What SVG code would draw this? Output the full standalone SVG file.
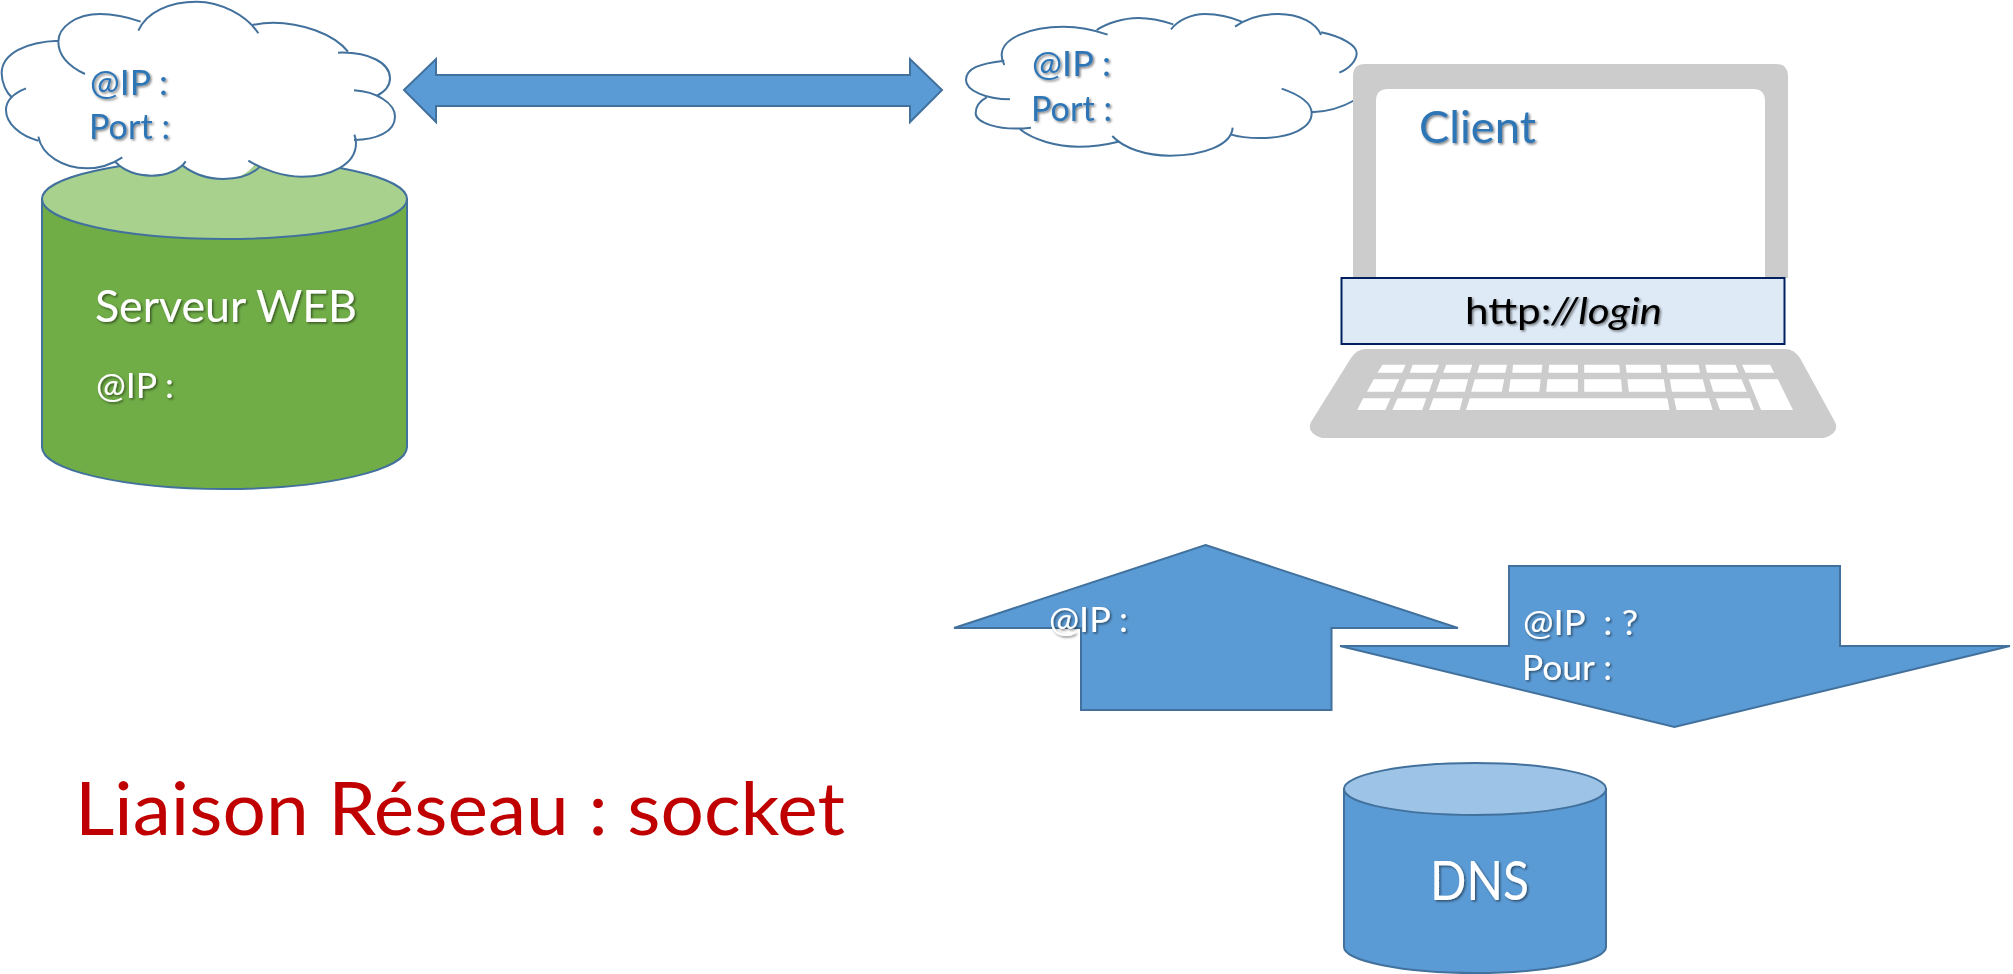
<svg xmlns="http://www.w3.org/2000/svg" width="2013" height="974" viewBox="0 0 2013 974">
<style>
text{font-family:"Lato","Carlito","Liberation Sans",sans-serif}
.s{font-size:34px}.m{font-size:44px}
.w{fill:#fff}.b{fill:#2E75B6}
.shape{stroke:#41719C;stroke-width:2}
.blue{fill:#5B9BD5}
.cf{fill:#fff;stroke:none}
.cs{fill:none;stroke:#41719C;stroke-width:6;stroke-linecap:butt}
.gray{fill:#CCCCCC}
.key{fill:#fff}
</style>
<defs>
<filter id="sh" x="-10%" y="-20%" width="125%" height="150%"><feDropShadow dx="1.5" dy="1.5" stdDeviation="1" flood-color="#000" flood-opacity="0.5"/></filter>
</defs>
<g id="serveur">
<path class="shape" fill="#70AD47" d="M42 199V447C42 470 124 489 224.500 489S407 470 407 447V199Z"/>
<ellipse class="shape" fill="#A9D18E" cx="224.500" cy="199" rx="182.500" ry="40"/>
<text class="m w" x="95" y="322" textLength="262" lengthAdjust="spacingAndGlyphs" filter="url(#sh)">Serveur WEB</text>
<text class="s w" x="96" y="398" textLength="78" lengthAdjust="spacingAndGlyphs" filter="url(#sh)">@IP :</text>
</g>
<g id="cloud-serveur">
<g transform="scale(.33333)">
<path class="cf" d="M175 122C80 125 5 160 5 220C5 250 20 278 35 292C18 300 18 315 18 330C18 370 60 408 115 422C125 465 190 505 260 505C295 505 330 497 347 487C375 515 415 527 455 527C500 527 530 515 548 497C585 525 630 537 670 537C715 537 745 520 765 492C790 510 850 530 905 530C990 530 1068 495 1068 430V420C1130 420 1185 395 1185 350C1185 320 1160 300 1130 288C1155 275 1170 255 1170 235C1170 190 1110 155 1044 155C1000 100 900 68 820 68C800 68 780 70 758 75C720 30 660 5 590 5C510 5 450 30 422 65C380 50 340 42 300 42C230 42 175 80 175 125Z"/>
<path class="cs" d="M175 122C80 125 5 160 5 220C5 250 20 278 35 292M78 265C45 278 18 300 18 330C18 370 60 408 115 422M115 410C125 465 190 505 260 505C295 505 330 497 367 472M347 487C375 515 415 527 455 527C500 527 540 510 557 484M548 497C585 525 630 537 670 537C715 537 755 525 780 500M745 482C790 510 850 530 905 530C990 530 1068 495 1068 430C1068 420 1066 412 1063 404M1062 420C1130 420 1185 395 1185 350C1185 310 1130 275 1062 271M1130 288C1155 275 1170 255 1170 235C1170 190 1110 155 1014 158M1044 155C1000 100 900 68 820 68C800 68 780 70 758 75M775 100C740 45 660 5 590 5C510 5 440 35 415 92M422 65C380 50 340 42 300 42C230 42 175 80 175 125C175 165 205 198 255 222"/>
</g>
<text class="s b" x="90" y="95" textLength="78" lengthAdjust="spacingAndGlyphs" filter="url(#sh)">@IP :</text>
<text class="s b" x="89" y="139" textLength="81" lengthAdjust="spacingAndGlyphs" filter="url(#sh)">Port :</text>
</g>
<g id="connectors">
<path id="socket-arrow" class="shape blue" d="M404 90L436 59V75H910V59L942 90L910 122V106H436V122Z"/>
</g>
<g id="cloud-client">
<g transform="translate(950 0) scale(.33333)">
<path class="cf" d="M160 182C90 190 48 205 48 240C48 265 75 283 110 292C85 305 77 320 77 340C77 365 140 392 210 388C250 420 320 440 385 440C425 440 465 435 487 408C520 445 590 467 660 467C760 467 830 440 842 403C870 412 900 414 930 414C1020 414 1085 385 1085 337C1140 335 1180 320 1215 300V218C1220 190 1220 180 1220 160C1220 135 1175 110 1113 100C1100 70 1050 42 985 42C940 42 900 52 875 65C840 50 805 42 765 42C725 42 690 55 670 73C630 60 600 54 565 54C520 54 470 70 440 90C420 85 380 80 340 80C240 80 155 115 155 165Z"/>
<path class="cs" d="M163 182C90 190 48 205 48 240C48 270 105 298 180 298M110 292C85 305 77 320 77 340C77 365 140 395 243 383M210 388C250 420 320 440 385 440C425 440 465 435 505 425M487 408C520 445 590 467 660 467C760 467 845 435 848 383M842 403C870 412 900 414 930 414C1020 414 1085 385 1085 340C1085 310 1050 285 995 266M1085 337C1140 335 1180 320 1215 300M1168 218C1200 205 1220 180 1220 160C1220 135 1175 110 1113 97M1113 105C1100 70 1050 42 985 42C940 42 890 55 855 80M875 65C840 50 805 42 765 42C725 42 685 60 663 88M670 73C630 60 600 54 565 54C520 54 470 70 440 90M473 104C420 85 380 80 340 80C240 80 155 115 155 165C155 175 158 185 163 195"/>
</g>
<text class="s b" x="1032" y="76" textLength="79" lengthAdjust="spacingAndGlyphs" filter="url(#sh)">@IP :</text>
<text class="s b" x="1031" y="120.500" textLength="81" lengthAdjust="spacingAndGlyphs" filter="url(#sh)">Port :</text>
</g>
<g id="client">
<path class="gray" fill-rule="evenodd" d="M1365 64H1776Q1788 64 1788 76V278H1353V76Q1353 64 1365 64ZM1388 89Q1376 89 1376 101V278H1765V101Q1765 89 1753 89Z"/>
<path class="gray" d="M1366 349H1785Q1794 349 1800 358L1835 422Q1840 433 1824 438H1322Q1306 433 1311 422L1351 358Q1357 349 1366 349Z"/>
<g class="key" transform="translate(1300 340) scale(.35088 .33333)">
<path d="M235 74H301L291 98H221ZM321 74H396L387 98H313ZM417 74H491L484 98H408ZM512 74H590L585 98H505ZM607 74H691L688 98H605ZM710 74H792V98H708ZM810 74H910L912 98H810ZM928 74H1027L1030 98H931ZM1045 74H1136L1140 98H1048ZM1155 74H1241L1250 98H1160ZM1260 74H1340L1351 98H1270Z"/>
<path d="M210 118H283L267 155H191ZM303 118H380L368 155H288ZM400 118H479L470 155H388ZM498 118H582L575 155H488ZM600 118H686L682 155H595ZM705 118H792V155H702ZM810 118H915L918 155H810ZM933 118H1037L1042 155H937ZM1054 118H1148L1157 155H1060ZM1167 118H1258L1273 155H1178ZM1278 118H1362L1405 210H1314Z"/>
<path d="M180 175H258L243 210H163ZM278 175H360L348 210H263ZM380 175H464L455 210H368ZM484 175H1047L1053 210H473ZM1066 175H1166L1176 210H1073ZM1185 175H1282L1294 210H1197Z"/>
</g>
<rect x="1341.500" y="278" width="443" height="66" fill="#DEEAF6" stroke="#002060" stroke-width="2"/>
<text x="1465" y="324" font-size="37" textLength="197" lengthAdjust="spacingAndGlyphs" fill="#000" filter="url(#sh)">http:<tspan font-style="italic">//login</tspan></text>
<text class="m b" x="1419" y="142.500" textLength="117" lengthAdjust="spacingAndGlyphs" filter="url(#sh)">Client</text>
</g>
<g id="reponse-dns">
<path class="shape blue" d="M1205.500 545L1458 628H1331.500V710H1081V628H954Z"/>
<text class="s w" x="1049" y="631.500" textLength="79" lengthAdjust="spacingAndGlyphs" filter="url(#sh)">@IP :</text>
</g>
<g id="requete-dns">
<path class="shape blue" d="M1509 566H1840V646H2010L1674.500 727L1340 646H1509Z"/>
<text class="s w" x="1523" y="635" textLength="115" lengthAdjust="spacingAndGlyphs" filter="url(#sh)" xml:space="preserve">@IP  : ?</text>
<text class="s w" x="1522" y="680" textLength="90" lengthAdjust="spacingAndGlyphs" filter="url(#sh)">Pour :</text>
</g>
<g id="dns">
<path class="shape blue" d="M1344 789V947C1344 961 1403 973 1475 973S1606 961 1606 947V789Z"/>
<ellipse class="shape" fill="#9DC3E6" cx="1475" cy="789" rx="131" ry="26"/>
<text x="1430" y="900" font-size="54" class="w" textLength="99" lengthAdjust="spacingAndGlyphs" filter="url(#sh)">DNS</text>
</g>
<text id="titre" x="75" y="835" font-size="73" fill="#C00000" textLength="770" lengthAdjust="spacingAndGlyphs">Liaison Réseau : socket</text>
</svg>
